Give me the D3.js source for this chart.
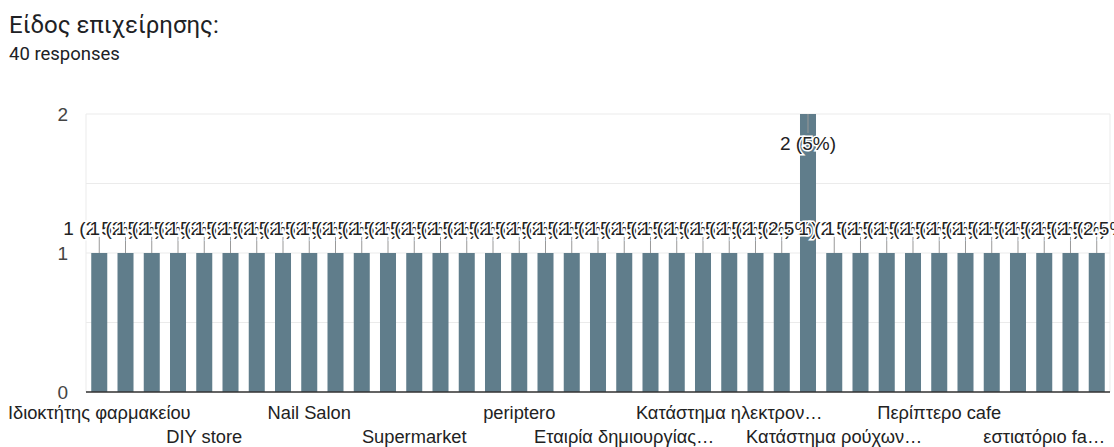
<!DOCTYPE html>
<html>
<head>
<meta charset="utf-8">
<script src="https://cdn.jsdelivr.net/npm/d3@7"></script>
<style>
body { margin: 0; background: #fff; }
</style>
</head>
<body>
<script>
// categories as they appear under the bars (only every 4th is shown)
var categories = [
  "Ιδιοκτήτης φαρμακείου", "Κομμωτήριο", "Φούρνος", "Καφετέρια",
  "DIY store", "Βιβλιοπωλείο", "Ανθοπωλείο", "Κρεοπωλείο",
  "Nail Salon", "Οπτικά", "Γυμναστήριο", "Ζαχαροπλαστείο",
  "Supermarket", "Λογιστικό γραφείο", "Ταβέρνα", "Mini market",
  "periptero", "Κάβα", "Φροντιστήριο", "Παιχνιδάδικο",
  "Εταιρία δημιουργίας…", "Ψητοπωλείο", "Κατάστημα καλλυντικών", "Πρατήριο καυσίμων",
  "Κατάστημα ηλεκτρον…", "Τυπογραφείο", "Pet shop", "Καφέ μπαρ",
  "Κατάστημα ρούχων…", "Κοσμηματοπωλείο", "Ιχθυοπωλείο", "Χρωματοπωλείο",
  "Περίπτερο cafe", "Εστιατόριο", "Ξενοδοχείο", "Κατάστημα υποδημάτων",
  "εστιατόριο fa…", "Φαρμακείο", "Αρτοποιείο"
];
var counts = [
  1, 1, 1, 1, 1, 1, 1, 1, 1, 1, 1, 1, 1, 1, 1, 1, 1, 1, 1, 1,
  1, 1, 1, 1, 1, 1, 1, 2, 1, 1, 1, 1, 1, 1, 1, 1, 1, 1, 1
];
var totalResponses = 40;
var yTicks = [0, 1, 2];
var gridTicks = [0, 0.5, 1, 1.5, 2];
var labelEvery = 4;

var W = 1114, H = 447;
var plot = {left: 86, right: 1110, top: 114, bottom: 392};

var svg = d3.select("body").append("svg")
  .attr("width", W)
  .attr("height", H);

svg.append("text")
  .attr("x", 9).attr("y", 33)
  .attr("font-family", "Roboto, sans-serif")
  .attr("font-size", 24)
  .attr("fill", "#202124")
  .text("Είδος επιχείρησης:");

svg.append("text")
  .attr("x", 9).attr("y", 60)
  .attr("font-family", "Roboto, sans-serif")
  .attr("font-size", 18.5)
  .attr("fill", "#202124")
  .text(totalResponses + " responses");

var x = d3.scaleBand()
  .domain(d3.range(categories.length))
  .range([plot.left, plot.right])
  .paddingInner(0.39)
  .paddingOuter(0.2);

var y = d3.scaleLinear()
  .domain([0, 2])
  .range([plot.bottom, plot.top]);

var font = "'Liberation Sans', Arial, sans-serif";

// grid
svg.append("g").selectAll("line")
  .data(gridTicks)
  .enter().append("line")
  .attr("x1", plot.left).attr("x2", plot.right)
  .attr("y1", d => y(d)).attr("y2", d => y(d))
  .attr("stroke", "#ebebeb");

svg.append("line")
  .attr("x1", plot.left).attr("x2", plot.left)
  .attr("y1", plot.top).attr("y2", plot.bottom)
  .attr("stroke", "#ebebeb");
svg.append("line")
  .attr("x1", plot.right).attr("x2", plot.right)
  .attr("y1", plot.top).attr("y2", plot.bottom)
  .attr("stroke", "#ebebeb");

// y labels
svg.append("g").selectAll("text")
  .data(yTicks)
  .enter().append("text")
  .attr("x", 68)
  .attr("y", d => y(d))
  .attr("dy", "0.36em")
  .attr("text-anchor", "end")
  .attr("font-family", font)
  .attr("font-size", 19)
  .attr("fill", "#444")
  .text(d => d);

// bars
svg.append("g").selectAll("rect")
  .data(counts)
  .enter().append("rect")
  .attr("x", (d, i) => x(i))
  .attr("y", d => y(d))
  .attr("width", x.bandwidth())
  .attr("height", d => y(0) - y(d))
  .attr("fill", "#607d8b");

// baseline
svg.append("line")
  .attr("x1", plot.left).attr("x2", plot.right)
  .attr("y1", y(0)).attr("y2", y(0))
  .attr("stroke", "#333")
  .attr("stroke-width", 1.5);

// annotation stems + labels; inside the bar when there is no room above
var inside = d => y(d) - 30 < plot.top;
var cx = i => x(i) + x.bandwidth() / 2;

svg.append("g").selectAll("line")
  .data(counts)
  .enter().append("line")
  .attr("x1", (d, i) => cx(i)).attr("x2", (d, i) => cx(i))
  .attr("y1", d => y(d))
  .attr("y2", d => inside(d) ? y(d) + 19 : y(d) - 17)
  .attr("stroke", "#999");

svg.append("g").selectAll("text")
  .data(counts)
  .enter().append("text")
  .attr("x", (d, i) => cx(i))
  .attr("y", d => inside(d) ? y(d) + 29 : y(d) - 25)
  .attr("dy", "0.36em")
  .attr("text-anchor", "middle")
  .attr("font-family", font)
  .attr("font-size", 19)
  .attr("fill", "#222")
  .attr("stroke", "#fff")
  .attr("stroke-width", 3)
  .attr("paint-order", "stroke")
  .text(d => d + " (" + d3.format(".3~")(d / totalResponses * 100) + "%)");

// x labels, every 4th category in two staggered rows
svg.append("g").selectAll("text")
  .data(categories.map((c, i) => ({c, i})).filter(d => d.i % labelEvery === 0))
  .enter().append("text")
  .attr("x", d => cx(d.i))
  .attr("y", (d, k) => k % 2 === 0 ? 412 : 436.5)
  .attr("dy", "0.36em")
  .attr("text-anchor", "middle")
  .attr("font-family", font)
  .attr("font-size", 18.3)
  .attr("fill", "#222")
  .text(d => d.c);
</script>
</body>
</html>
